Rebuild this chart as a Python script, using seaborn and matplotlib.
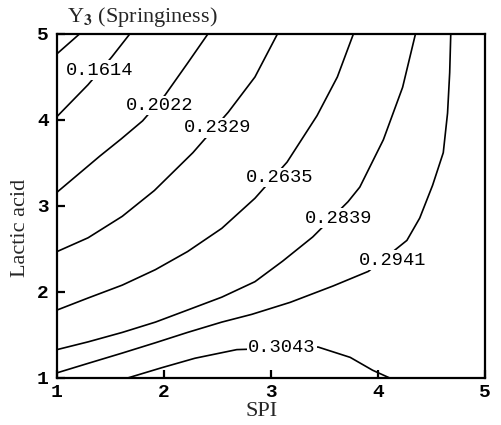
import matplotlib
matplotlib.use("Agg")
import matplotlib.pyplot as plt
import numpy as np
import pandas as pd
import seaborn as sns

# ---- data (SPI on x, lactic acid on y) ----
spi_c0 = [1.00, 1.21]
lac_c0 = [4.77, 5.00]

spi_1614 = [1.00, 1.29, 1.51, 1.68]
lac_1614 = [4.04, 4.41, 4.73, 5.00]

spi_2022 = [1.00, 1.20, 1.40, 1.60, 1.80, 2.01, 2.22, 2.41]
lac_2022 = [3.16, 3.37, 3.58, 3.78, 3.99, 4.29, 4.66, 5.00]

spi_2329 = [1.00, 1.29, 1.61, 1.91, 2.27, 2.60, 2.85, 3.06]
lac_2329 = [2.47, 2.63, 2.88, 3.18, 3.62, 4.09, 4.50, 5.00]

spi_2635 = [1.00, 1.29, 1.61, 1.92, 2.22, 2.54, 2.85, 3.15, 3.43, 3.62, 3.77]
lac_2635 = [1.79, 1.93, 2.08, 2.26, 2.47, 2.74, 3.09, 3.51, 4.05, 4.50, 5.00]

spi_2839 = [1.00, 1.29, 1.61, 1.92, 2.22, 2.54, 2.85, 3.11, 3.39, 3.72, 3.83, 4.05, 4.23, 4.35]
lac_2839 = [1.33, 1.42, 1.53, 1.65, 1.79, 1.94, 2.12, 2.36, 2.64, 3.05, 3.22, 3.77, 4.38, 5.00]

spi_2941 = [1.00, 1.29, 1.61, 1.92, 2.22, 2.54, 2.82, 3.18, 3.58, 3.91, 4.27, 4.39, 4.51, 4.61, 4.65, 4.67, 4.68]
lac_2941 = [1.06, 1.17, 1.29, 1.41, 1.53, 1.65, 1.74, 1.88, 2.07, 2.24, 2.60, 2.86, 3.24, 3.62, 4.08, 4.55, 5.00]

spi_3043 = [1.66, 1.98, 2.29, 2.68, 3.44, 3.74, 3.95, 4.11]
lac_3043 = [1.00, 1.12, 1.23, 1.33, 1.36, 1.24, 1.09, 1.00]

label_text = ["0.1614", "0.2022", "0.2329", "0.2635", "0.2839", "0.2941", "0.3043"]
label_spi = [1.40, 1.96, 2.50, 3.08, 3.63, 4.14, 3.10]
label_lac = [4.58, 4.17, 3.91, 3.33, 2.86, 2.37, 1.35]

ticks = [1, 2, 3, 4, 5]

curves = {
    "c0": (spi_c0, lac_c0),
    "0.1614": (spi_1614, lac_1614),
    "0.2022": (spi_2022, lac_2022),
    "0.2329": (spi_2329, lac_2329),
    "0.2635": (spi_2635, lac_2635),
    "0.2839": (spi_2839, lac_2839),
    "0.2941": (spi_2941, lac_2941),
    "0.3043": (spi_3043, lac_3043),
}
rows = []
for name, (xs, ys) in curves.items():
    for i, (a, b) in enumerate(zip(xs, ys)):
        rows.append({"level": name, "order": i, "SPI": a, "Lactic": b})
df = pd.DataFrame(rows)

sns.set_style("ticks")
plt.rcParams["font.family"] = ["Liberation Serif", "DejaVu Serif"]
plt.rcParams["mathtext.fontset"] = "stix"

fig = plt.figure(figsize=(5.01, 4.25), dpi=100)
ax = fig.add_axes([57 / 501, 1 - 378 / 425, 428 / 501, 344 / 425])

sns.lineplot(data=df, x="SPI", y="Lactic", units="level", estimator=None,
             sort=False, color="black", linewidth=1.2, ax=ax, legend=False)

mono = ["Liberation Mono", "DejaVu Sans Mono"]
for t, xv, yv in zip(label_text, label_spi, label_lac):
    ax.text(xv, yv, t, ha="center", va="center", fontsize=13.5,
            family=mono, color="black",
            bbox=dict(facecolor="white", edgecolor="none", pad=1.0), zorder=5)

ax.set_xlim(1, 5)
ax.set_ylim(1, 5)
ax.set_xticks(ticks)
ax.set_yticks(ticks)
ax.set_xticklabels([str(t) for t in ticks], family=mono, fontweight="bold", fontsize=14)
ax.set_yticklabels([str(t) for t in ticks], family=mono, fontweight="bold", fontsize=14)
ax.tick_params(axis="x", direction="in", length=6, width=1.6, pad=4, colors="black")
ax.tick_params(axis="y", direction="in", length=6, width=1.6, pad=6, colors="black")
for s in ax.spines.values():
    s.set_linewidth(1.6)
    s.set_color("black")
    s.set_visible(True)

ax.set_xlabel("")
ax.set_ylabel("")
fig.text(262 / 501, 1 - 411 / 425, "SPI", ha="center", va="center", fontsize=16)
fig.text(21 / 501, 1 - 228 / 425, "Lactic acid", ha="center", va="center",
         rotation=90, fontsize=16)
fig.text(67 / 501, 1 - 22 / 425, r"Y$_{\mathbf{3}}$ (Springiness)", ha="left",
         va="baseline", fontsize=16)

fig.savefig("out.png", dpi=100, facecolor="white")
